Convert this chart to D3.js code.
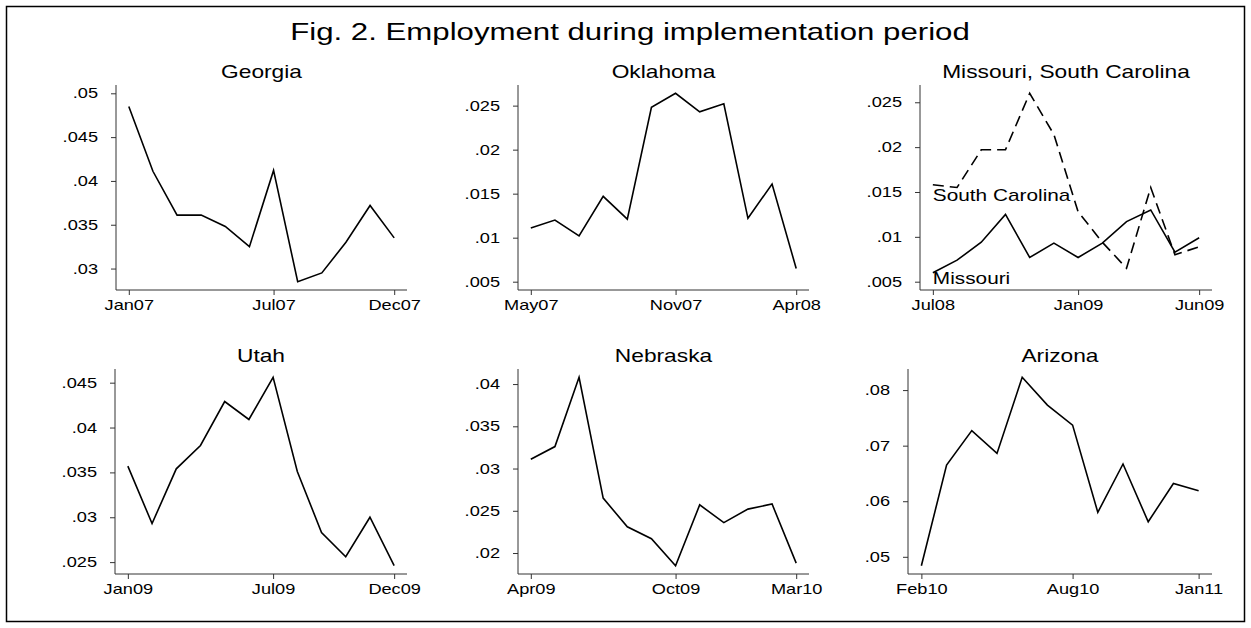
<!DOCTYPE html>
<html>
<head>
<meta charset="utf-8">
<script src="https://cdn.jsdelivr.net/npm/d3@7"></script>
<style>
  html, body { margin: 0; padding: 0; background: #fff; }
  svg text { font-family: "Liberation Sans", Arial, Helvetica, sans-serif; fill: #000; }
</style>
</head>
<body>
<svg id="chart" width="1251" height="628"></svg>
<script>
// ---------------- DATA ----------------
const figTitle = "Fig. 2. Employment during implementation period";

const georgiaValues   = [0.0485, 0.0411, 0.0361, 0.0361, 0.0348, 0.0325, 0.0412, 0.0285, 0.0295, 0.0330, 0.0372, 0.0335];
const georgiaXTicks   = ["Jan07", "Jul07", "Dec07"];
const georgiaYTicks   = [0.03, 0.035, 0.04, 0.045, 0.05];

const oklahomaValues  = [0.0111, 0.0120, 0.0102, 0.0147, 0.0121, 0.0248, 0.0264, 0.0243, 0.0252, 0.0122, 0.0161, 0.0065];
const oklahomaXTicks  = ["May07", "Nov07", "Apr08"];
const oklahomaYTicks  = [0.005, 0.01, 0.015, 0.02, 0.025];

const missouriValues  = [0.0060, 0.0074, 0.0094, 0.0125, 0.0077, 0.0093, 0.0077, 0.0093, 0.0117, 0.0130, 0.0083, 0.0099];
const southCarValues  = [0.0158, 0.0155, 0.0197, 0.0197, 0.0260, 0.0214, 0.0128, 0.0094, 0.0065, 0.0155, 0.0080, 0.0089];
const moscXTicks      = ["Jul08", "Jan09", "Jun09"];
const moscYTicks      = [0.005, 0.01, 0.015, 0.02, 0.025];

const utahValues      = [0.0357, 0.0293, 0.0354, 0.0380, 0.0429, 0.0409, 0.0456, 0.0351, 0.0283, 0.0256, 0.0300, 0.0246];
const utahXTicks      = ["Jan09", "Jul09", "Dec09"];
const utahYTicks      = [0.025, 0.03, 0.035, 0.04, 0.045];

const nebraskaValues  = [0.0311, 0.0326, 0.0408, 0.0265, 0.0231, 0.0217, 0.0185, 0.0257, 0.0236, 0.0252, 0.0258, 0.0188];
const nebraskaXTicks  = ["Apr09", "Oct09", "Mar10"];
const nebraskaYTicks  = [0.02, 0.025, 0.03, 0.035, 0.04];

const arizonaValues   = [0.0484, 0.0665, 0.0727, 0.0686, 0.0823, 0.0773, 0.0737, 0.0580, 0.0667, 0.0563, 0.0632, 0.0619];
const arizonaXTicks   = ["Feb10", "Aug10", "Jan11"];
const arizonaYTicks   = [0.05, 0.06, 0.07, 0.08];

// month index of each x tick label (start, +6 months, last)
const xTickIndex = [0, 6, 11];

// ---------------- PANELS (data + layout) ----------------
const panels = [
  { title: "Georgia",  series: [{ values: georgiaValues }],  xTicks: georgiaXTicks,  yTicks: georgiaYTicks,  box: { l: 116, r: 407,  t: 85,  b: 290 } },
  { title: "Oklahoma", series: [{ values: oklahomaValues }], xTicks: oklahomaXTicks, yTicks: oklahomaYTicks, box: { l: 518, r: 809,  t: 85,  b: 290 } },
  { title: "Missouri, South Carolina",
    series: [{ values: missouriValues, label: "Missouri", dy: 11 },
             { values: southCarValues, label: "South Carolina", dy: 16, dash: "11,6" }],
    xTicks: moscXTicks, yTicks: moscYTicks, box: { l: 920, r: 1212, t: 85, b: 290 } },
  { title: "Utah",     series: [{ values: utahValues }],     xTicks: utahXTicks,     yTicks: utahYTicks,     box: { l: 115, r: 407,  t: 369, b: 574 } },
  { title: "Nebraska", series: [{ values: nebraskaValues }], xTicks: nebraskaXTicks, yTicks: nebraskaYTicks, box: { l: 518, r: 809,  t: 369, b: 574 } },
  { title: "Arizona",  series: [{ values: arizonaValues }],  xTicks: arizonaXTicks,  yTicks: arizonaYTicks,  box: { l: 908, r: 1212, t: 369, b: 574 } }
];

// ---------------- DRAW ----------------
const svg = d3.select("#chart");
const W = 1251, H = 628;
const SX = 1.3; // horizontal stretch of the lettering, as in the reference export

function stretch(sel) {
  sel.each(function () {
    const t = d3.select(this);
    const x = +t.attr("x") || 0;
    t.attr("transform", `translate(${x * (1 - SX)},0) scale(${SX},1)`);
  });
  return sel;
}

svg.append("rect").attr("x", 0).attr("y", 0).attr("width", W).attr("height", H).attr("fill", "#fff");
svg.append("rect").attr("x", 6.5).attr("y", 6.5).attr("width", W - 13).attr("height", H - 13)
  .attr("fill", "none").attr("stroke", "#000").attr("stroke-width", 1.5);

stretch(svg.append("text").attr("x", 630).attr("y", 40).attr("text-anchor", "middle")
  .attr("font-size", 24).text(figTitle));

const fmt = v => d3.format(".3~f")(v).replace(/^0\./, ".");
const axisColor = "#333";
const yPad = 8.3;

panels.forEach(p => {
  const { l, r, t, b } = p.box;
  const xPad = (r - l) * 0.044;
  const n = p.series[0].values.length;
  const x = d3.scaleLinear().domain([0, n - 1]).range([l + xPad, r - xPad]);
  const all = p.series.flatMap(s => s.values).concat(p.yTicks);
  const y = d3.scaleLinear().domain(d3.extent(all)).range([b - yPad, t + yPad]);

  const g = svg.append("g");

  // panel title
  stretch(g.append("text").attr("x", (l + r) / 2).attr("y", t - 7).attr("text-anchor", "middle")
    .attr("font-size", 17.5).text(p.title));

  // y axis
  const yAxis = d3.axisLeft(y).tickValues(p.yTicks).tickFormat(fmt).tickSize(5).tickPadding(13);
  const ya = g.append("g").attr("transform", `translate(${l},0)`).call(yAxis);
  ya.select(".domain").attr("d", `M0,${t}V${b}`).attr("stroke", axisColor);
  ya.selectAll(".tick line").attr("stroke", axisColor);
  stretch(ya.selectAll(".tick text").attr("font-size", 14).attr("font-family", null).attr("fill", "#000"));

  // x axis
  const xAxis = d3.axisBottom(x).tickValues(xTickIndex).tickFormat((d, i) => p.xTicks[i]).tickSize(5).tickPadding(5);
  const xa = g.append("g").attr("transform", `translate(0,${b})`).call(xAxis);
  xa.select(".domain").attr("d", `M${l},0H${r}`).attr("stroke", axisColor);
  xa.selectAll(".tick line").attr("stroke", axisColor);
  stretch(xa.selectAll(".tick text").attr("font-size", 14).attr("font-family", null).attr("fill", "#000"));

  // lines
  const line = d3.line().x((d, i) => x(i)).y(d => y(d));
  p.series.forEach(s => {
    g.append("path").datum(s.values).attr("d", line)
      .attr("fill", "none").attr("stroke", "#000").attr("stroke-width", 1.6)
      .attr("stroke-linejoin", "miter")
      .attr("stroke-dasharray", s.dash || null);
    if (s.label) {
      stretch(g.append("text").attr("x", x(0)).attr("y", y(s.values[0]) + s.dy)
        .attr("font-size", 16).text(s.label));
    }
  });
});
</script>
</body>
</html>
